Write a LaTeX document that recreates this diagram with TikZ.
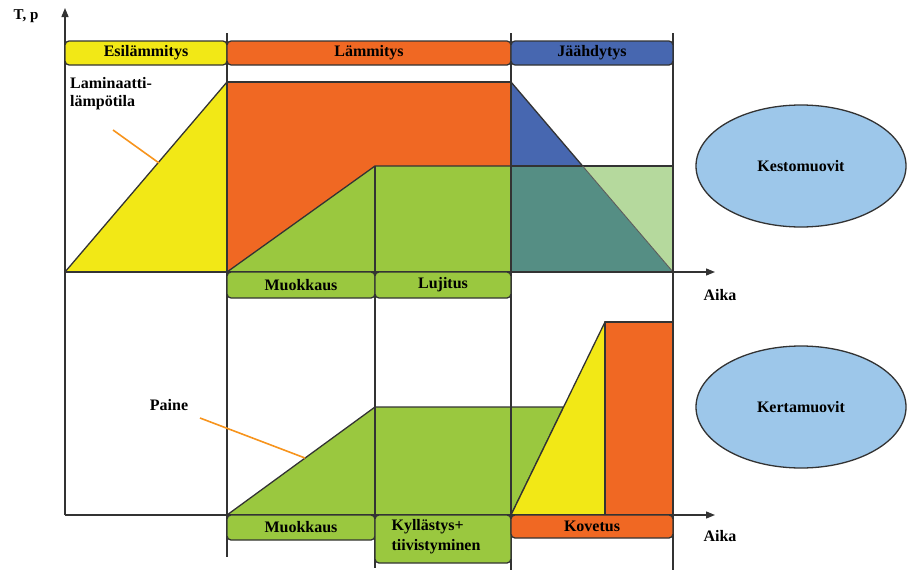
\documentclass[tikz,border=0pt]{standalone}
\usepackage{fontspec}
\setmainfont{Liberation Serif}
\usetikzlibrary{arrows.meta,shapes.geometric}
\definecolor{cyel}{HTML}{F2E816}
\definecolor{corg}{HTML}{F06823}
\definecolor{cgrn}{HTML}{9AC83F}
\definecolor{cblu}{HTML}{4767B0}
\definecolor{cteal}{HTML}{558E84}
\definecolor{cltg}{HTML}{B5D99D}
\definecolor{cell}{HTML}{9DC7EA}
\definecolor{cline}{HTML}{333333}
\definecolor{cptr}{HTML}{F7941D}
\begin{document}
\begin{tikzpicture}[x=1pt,y=-1pt,line join=round,
  outl/.style={draw=cline,line width=1.3pt},
  guide/.style={draw=cline,line width=1.2pt},
  lbl/.style={font=\bfseries\fontsize{16}{18}\selectfont,text=black},
  tagbox/.style={outl,rounded corners=4pt,inner sep=0pt,lbl},
  axis/.style={draw=cline,line width=1.3pt,-{Triangle[length=9pt,width=7pt]}},
  pointer/.style={draw=cptr,line width=1.6pt},
  blob/.style={ellipse,outl,fill=cell,minimum width=210pt,minimum height=122pt,lbl}]
\useasboundingbox (0,0) rectangle (907,570);

% --- upper chart: temperature profile ---
\fill[corg] (227,82) rectangle (511,272);
\draw[outl] (227,272) -- (227,82) -- (511,82) -- (511,166);
\draw[outl,fill=cyel] (65,272) -- (227,82) -- (227,272) -- cycle;
\draw[outl,fill=cgrn] (227,272) -- (375,166) -- (511,166) -- (511,272) -- cycle;
\fill[cblu] (511,82) -- (582.6,166) -- (511,166) -- cycle;
\fill[cteal] (511,166) -- (582.6,166) -- (673,272) -- (511,272) -- cycle;
\fill[cltg] (582.6,166) -- (673,166) -- (673,272) -- cycle;
\draw[outl] (511,166) rectangle (673,272);
\draw[outl] (511,82) -- (582.6,166);
\draw[draw=cline!80,line width=0.9pt] (582.6,166) -- (673,272);

% --- lower chart: pressure profile ---
\draw[outl,fill=cgrn] (227,515) -- (375,407) -- (563.6,407) -- (511,515) -- cycle;
\draw[outl,fill=cyel] (511,515) -- (605,322) -- (605,515) -- cycle;
\draw[outl,fill=corg] (605,322) rectangle (673,515);

% --- phase boundaries ---
\draw[guide] (227,33) -- (227,557);
\draw[guide] (375,166) -- (375,568);
\draw[guide] (511,33) -- (511,570);
\draw[guide] (673,33) -- (673,570);

% --- axes ---
\coordinate (origin) at (65,515);
\coordinate (ytip) at (65,8);
\coordinate (x1start) at (65,272);
\coordinate (x1tip) at (715,272);
\coordinate (x2tip) at (715,515);
\draw[axis] (origin) -- (ytip);
\draw[axis] (x1start) -- (x1tip);
\draw[axis] (origin) -- (x2tip);

% --- phase band ---
\node[tagbox,fill=cyel,minimum width=162pt,minimum height=24pt] (pre) at (146,53) {Esilämmitys};
\node[tagbox,fill=corg,minimum width=284pt,minimum height=24pt] (heat) at (369,53) {Lämmitys};
\node[tagbox,fill=cblu,minimum width=162pt,minimum height=24pt] (cool) at (592,53) {Jäähdytys};

% --- stage tags ---
\node[tagbox,fill=cgrn,minimum width=148pt,minimum height=26pt] (form1) at (301,285) {Muokkaus};
\node[tagbox,fill=cgrn,minimum width=136pt,minimum height=26pt] (cons) at (443,285) {Lujitus};
\node[tagbox,fill=cgrn,minimum width=148pt,minimum height=25pt] (form2) at (301,527.5) {Muokkaus};
\node[tagbox,fill=cgrn,minimum width=136pt,minimum height=48pt] (impr) at (443,539) {};
\node[lbl,font=\bfseries\fontsize{16}{20}\selectfont,align=left,inner sep=0pt] (imprtext) at (436,537) {Kyllästys+\\tiivistyminen};
\node[tagbox,fill=corg,minimum width=162pt,minimum height=23pt] (cure) at (592,526.5) {Kovetus};

% --- axis labels ---
\node[lbl,font=\bfseries\fontsize{15}{18}\selectfont] (ylab) at (26,16) {T, p};
\node[lbl] (t1) at (720,295) {Aika};
\node[lbl] (t2) at (720,536) {Aika};

% --- curve labels with pointers ---
\node[lbl,align=left,anchor=west,inner sep=0pt] (lam) at (70,94) {Laminaatti-\\lämpötila};
\coordinate (lamfrom) at (113,130);
\coordinate (lamto) at (159,163);
\draw[pointer] (lamfrom) -- (lamto);
\node[lbl] (paine) at (169,405) {Paine};
\coordinate (painefrom) at (200,418);
\coordinate (paineto) at (305,458);
\draw[pointer] (painefrom) -- (paineto);

% --- material classes ---
\node[blob] (thermo) at (801,166) {Kestomuovit};
\node[blob] (thermoset) at (801,407) {Kertamuovit};
\end{tikzpicture}
\end{document}
